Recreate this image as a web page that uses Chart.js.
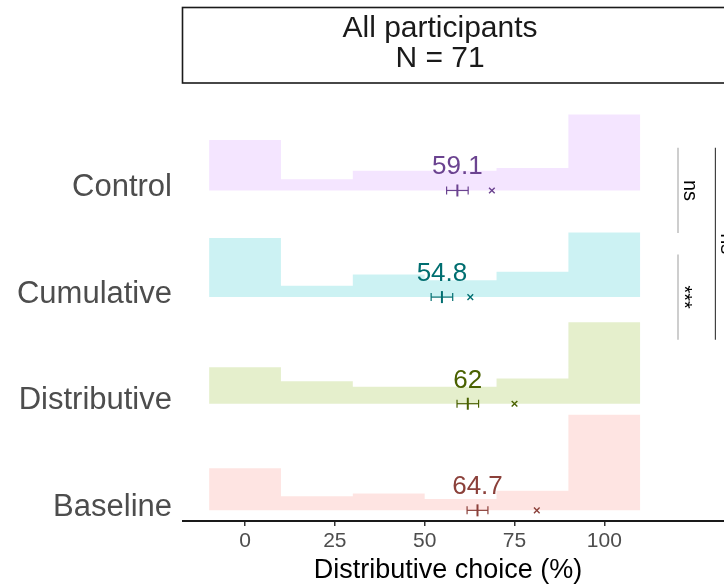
<!DOCTYPE html>
<html lang="en">
<head>
  <meta charset="UTF-8">
  <title>Distributive choice - All participants</title>
  <script src="https://cdn.jsdelivr.net/npm/chart.js"></script>
  <style>
    body {
      margin: 0;
      background: #ffffff;
    }
    .wrap {
      width: 724px;
      height: 585px;
      position: relative;
    }
  </style>
</head>
<body>
  <div class="wrap">
    <canvas id="chart"></canvas>
  </div>

  <script>
    // categories, bottom to top
    const categories = ['Baseline', 'Distributive', 'Cumulative', 'Control'];
    const binEdges = [-10, 10, 30, 50, 70, 90, 110];

    // participants per bin (N = 71)
    const baselineCounts = [15, 5, 6, 4, 7, 34];
    const distributiveCounts = [13, 8, 6, 6, 9, 29];
    const cumulativeCounts = [21, 4, 8, 6, 9, 23];
    const controlCounts = [18, 4, 7, 7, 8, 27];

    const meanValues = [64.7, 62, 54.8, 59.1];
    const seValues = [2.9, 3.0, 3.0, 3.0];
    const crossValues = [81.2, 75, 62.7, 68.7];

    const xTicks = [0, 25, 50, 75, 100];

    // significance brackets (y spans in category units)
    const sigLabels = ['ns', '***', 'ns'];
    const sigFrom = [3.6, 2.6, 2.6];
    const sigTo = [4.4, 3.4, 4.4];
    const sigX = [120.5, 120.5, 130.9];

    const fillColors = ['rgba(248,118,109,0.2)', 'rgba(124,174,0,0.2)', 'rgba(0,191,196,0.2)', 'rgba(199,124,255,0.2)'];
    const darkColors = ['#8b403a', '#4a6100', '#006e70', '#6b4390'];
    const countScale = 0.02635;
    const font = "'Liberation Sans', Arial, sans-serif";

    const allCounts = [baselineCounts, distributiveCounts, cumulativeCounts, controlCounts];
    const datasets = [];

    allCounts.forEach((counts, i) => {
      const base = i + 1;
      datasets.push({
        type: 'line',
        data: binEdges.map((edge, j) => ({ x: edge, y: base + counts[Math.min(j, counts.length - 1)] * countScale })),
        stepped: true,
        borderWidth: 0,
        borderColor: 'rgba(0,0,0,0)',
        backgroundColor: fillColors[i],
        fill: { value: base },
        pointRadius: 0,
        order: 10
      });
    });

    categories.forEach((cat, i) => {
      const base = i + 1;
      // error bar with caps
      datasets.push({
        type: 'line',
        data: [{ x: meanValues[i] - seValues[i], y: base }, { x: meanValues[i] + seValues[i], y: base }],
        borderColor: darkColors[i],
        borderWidth: 1.2,
        pointStyle: 'line',
        rotation: 90,
        pointRadius: 4,
        pointBorderWidth: 1.2,
        pointBorderColor: darkColors[i],
        fill: false,
        order: 1
      });
      // mean tick
      datasets.push({
        type: 'scatter',
        data: [{ x: meanValues[i], y: base }],
        pointStyle: 'line',
        rotation: 90,
        pointRadius: 6,
        borderWidth: 2,
        borderColor: darkColors[i],
        order: 0
      });
      // cross marker
      datasets.push({
        type: 'scatter',
        data: [{ x: crossValues[i], y: base }],
        pointStyle: 'crossRot',
        pointRadius: 4,
        borderWidth: 1.4,
        borderColor: darkColors[i],
        order: 0
      });
    });

    sigLabels.forEach((lab, k) => {
      datasets.push({
        type: 'line',
        data: [{ x: sigX[k], y: sigFrom[k] }, { x: sigX[k], y: sigTo[k] }],
        borderColor: k === 2 ? '#333333' : '#a6a6a6',
        borderWidth: 1.1,
        pointRadius: 0,
        fill: false,
        order: 2
      });
    });

    const annotations = {
      id: 'annotations',
      afterDatasetsDraw(chart) {
        const ctx = chart.ctx;
        const xs = chart.scales.x;
        const ys = chart.scales.y;
        const a = chart.chartArea;
        ctx.save();
        // mean labels
        ctx.font = '26px ' + font;
        ctx.textAlign = 'center';
        ctx.textBaseline = 'alphabetic';
        meanValues.forEach((m, i) => {
          ctx.fillStyle = darkColors[i];
          ctx.fillText(String(m), xs.getPixelForValue(m), ys.getPixelForValue(i + 1) - 16);
        });
        // significance labels, rotated
        ctx.fillStyle = '#000000';
        ctx.font = '20px ' + font;
        sigLabels.forEach((lab, k) => {
          const px = xs.getPixelForValue(sigX[k]) + (lab === 'ns' ? 5.5 : 0);
          const py = ys.getPixelForValue((sigFrom[k] + sigTo[k]) / 2);
          ctx.save();
          ctx.translate(px, py);
          ctx.rotate(Math.PI / 2);
          ctx.fillText(lab, 0, 0);
          ctx.restore();
        });
        // axis title
        ctx.fillStyle = '#000000';
        ctx.font = '27px ' + font;
        ctx.fillText('Distributive choice (%)', a.left + 265, 578);
        // facet strip
        ctx.strokeStyle = '#1a1a1a';
        ctx.lineWidth = 1.6;
        ctx.strokeRect(a.left - 0.5, 7.5, 700, a.top - 7.5);
        ctx.fillStyle = '#1a1a1a';
        ctx.font = '30px ' + font;
        ctx.fillText('All participants', 440, 37);
        ctx.fillText('N = 71', 440, 67);
        ctx.restore();
      }
    };

    new Chart(document.getElementById('chart').getContext('2d'), {
      data: { datasets: datasets },
      options: {
        responsive: true,
        maintainAspectRatio: false,
        animation: false,
        events: [],
        layout: { autoPadding: false, padding: { top: 83, right: 0, bottom: 0, left: 0 } },
        plugins: {
          legend: { display: false },
          tooltip: { enabled: false }
        },
        scales: {
          x: {
            type: 'linear',
            min: -17.26,
            max: 133.3,
            afterBuildTicks: (scale) => { scale.ticks = xTicks.map(v => ({ value: v })); },
            afterFit: (scale) => {
              scale.height = 64;
              scale.paddingLeft = 0;
              scale.paddingRight = 0;
            },
            grid: {
              display: true,
              drawOnChartArea: false,
              drawTicks: true,
              tickLength: 5,
              color: '#333333',
              lineWidth: 1.5
            },
            border: { display: true, color: '#1a1a1a', width: 2 },
            ticks: {
              color: '#4d4d4d',
              font: { family: font, size: 21 },
              padding: 3,
              maxRotation: 0
            },
            title: { display: false }
          },
          y: {
            type: 'linear',
            min: 0.9,
            max: 5.008,
            afterBuildTicks: (scale) => { scale.ticks = categories.map((c, i) => ({ value: i + 1 })); },
            afterFit: (scale) => {
              scale.width = 183;
              scale.paddingTop = 0;
              scale.paddingBottom = 0;
            },
            grid: { display: false, drawTicks: false },
            border: { display: false },
            ticks: {
              color: '#4d4d4d',
              font: { family: font, size: 31 },
              padding: 11,
              labelOffset: -3,
              callback: (value) => categories[value - 1]
            }
          }
        }
      },
      plugins: [annotations]
    });
  </script>
</body>
</html>
